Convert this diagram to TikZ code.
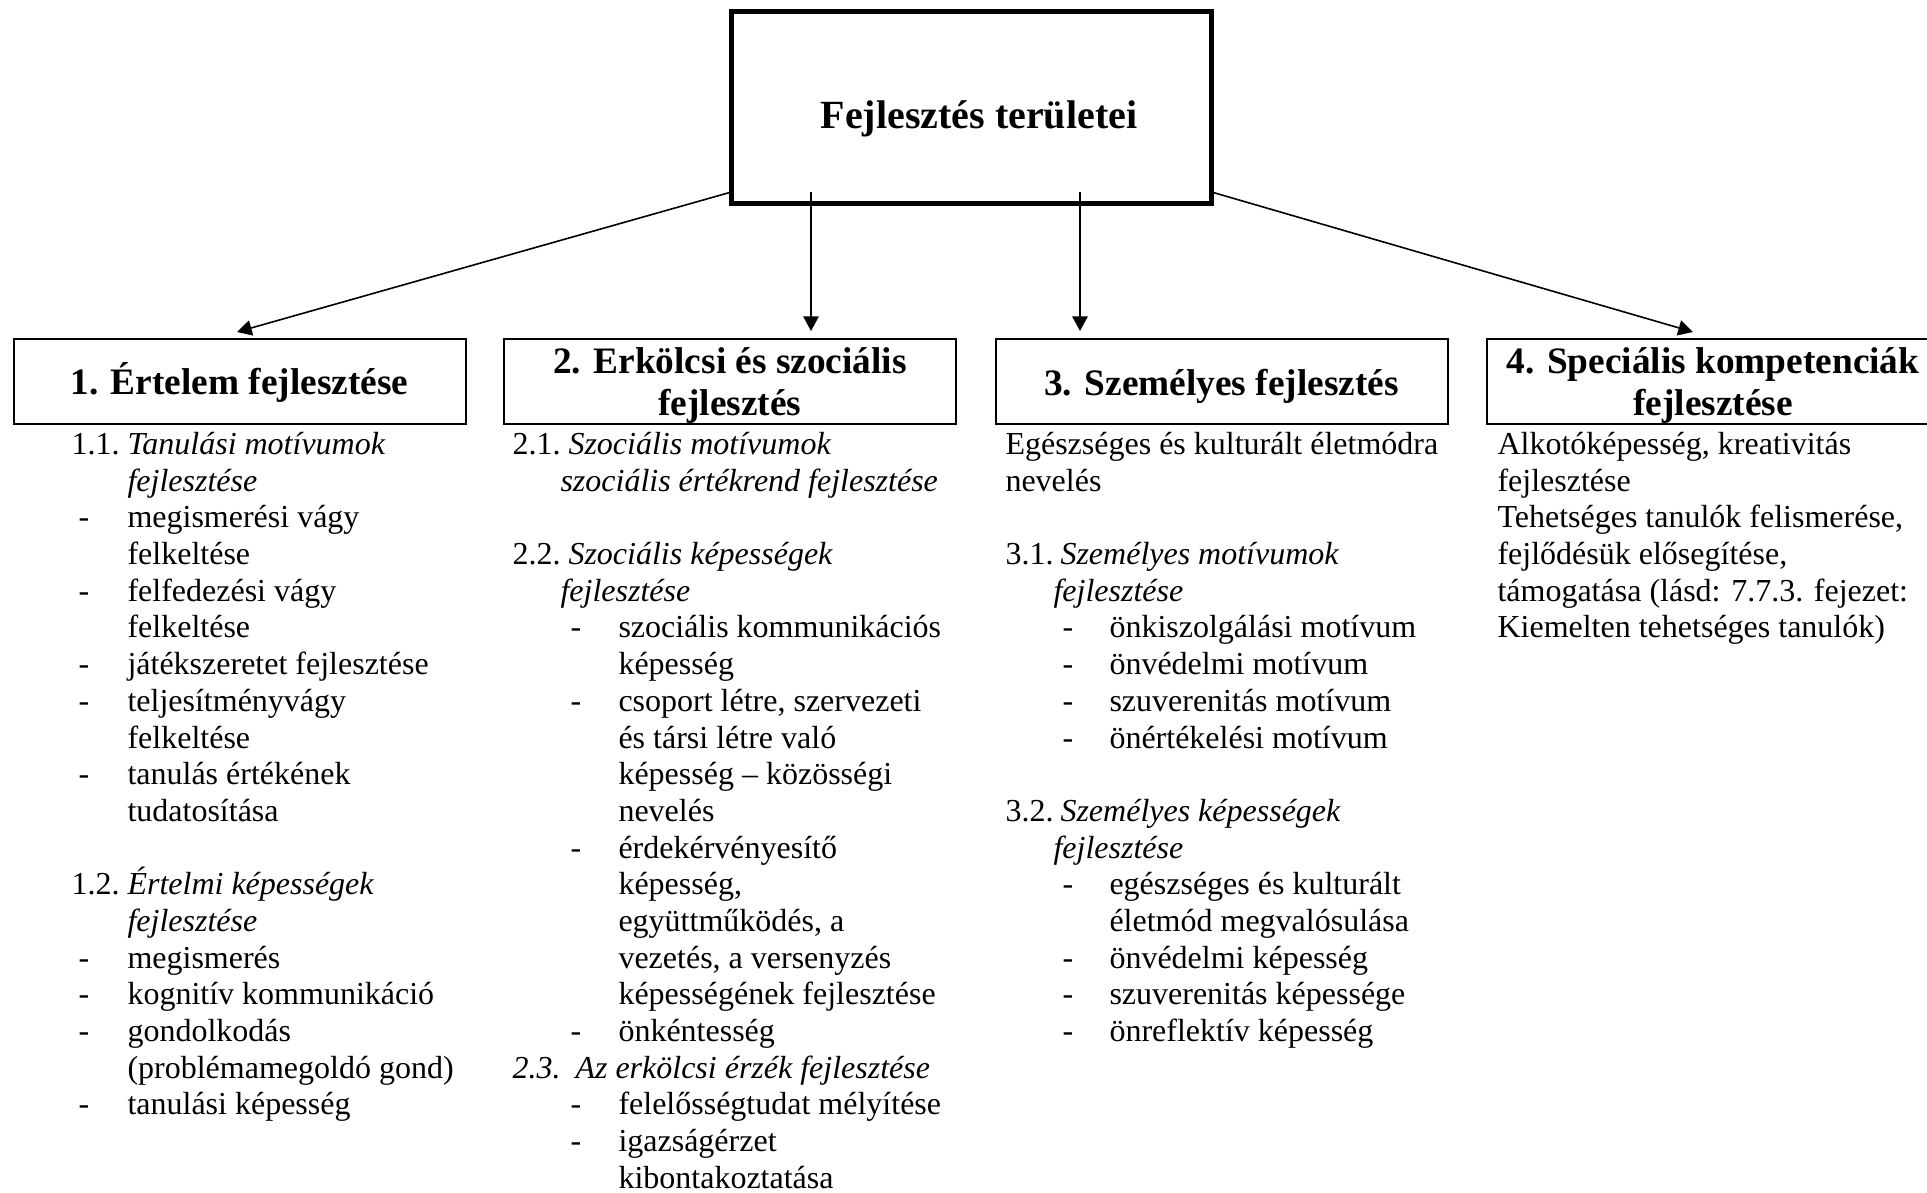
\documentclass[tikz,border=0pt]{standalone}
\usepackage{fontspec}
\setmainfont{Liberation Serif}
\usetikzlibrary{arrows.meta}
\newlength\px \setlength\px{0.375pt}
\newcommand\colbox[1]{\vtop{\hsize=600\px\parindent=0pt\parskip=0pt\fontsize{12}{13.76}\selectfont #1}}
\newcommand\Lab[3]{\makebox[#1\px][l]{#2}#3\par}
\newcommand\Ind[2]{\hspace*{#1\px}#2\par}
\newcommand\Dsh[3]{\makebox[#2\px][l]{\hspace*{#1\px}-}#3\par}
\newcommand\Blank{\mbox{}\par}
\tikzset{
  topbox/.style={draw, line width=1.875pt, minimum width=180pt, minimum height=72pt, inner sep=0pt},
  areabox/.style={draw, line width=0.75pt, minimum width=169.5pt, minimum height=31.9pt, inner sep=0pt},
  conn/.style={-{Triangle[length=5.5pt,width=5.8pt]}, line width=0.6pt},
  toptitle/.style={font=\fontsize{15}{17}\selectfont\bfseries, anchor=base, inner sep=0pt},
  boxtitle/.style={font=\fontsize{14}{15.75}\selectfont\bfseries, anchor=base, inner sep=0pt},
  bodytext/.style={anchor=base west, inner sep=0pt}
}
\begin{document}
\begin{tikzpicture}[x=0.375pt,y=-0.375pt]
\useasboundingbox (0,0) rectangle (1927,1193);
% top box
\node[topbox] (top) at (971.5,107.5) {};
\node[toptitle] (toptxt) at (979,129) {Fejlesztés területei};
% area boxes
\node[areabox] (b1) at (239.5,381.5) {};
\node[areabox] (b2) at (730,381.5) {};
\node[areabox] (b3) at (1221.5,381.5) {};
\node[areabox] (b4) at (1713,381.5) {};
\node[boxtitle] (b1t) at (239.5,395) {1. Értelem fejlesztése};
\node[boxtitle] (b2t) at (730,374) {\begin{tabular}[t]{@{}c@{}}2. Erkölcsi és szociális\\fejlesztés\end{tabular}};
\node[boxtitle] (b3t) at (1221.5,396) {3. Személyes fejlesztés};
\node[boxtitle] (b4t) at (1713,374) {\begin{tabular}[t]{@{}c@{}}4. Speciális kompetenciák\\fejlesztése\end{tabular}};
% connectors
\coordinate (s1) at (731.5,192);
\coordinate (s2) at (811,192);
\coordinate (s3) at (1080,192);
\coordinate (s4) at (1211.5,192);
\coordinate (t1) at (237,332);
\coordinate (t2) at (811,331);
\coordinate (t3) at (1080,331);
\coordinate (t4) at (1693,332);
\draw[conn] (s1) -- (t1);
\draw[conn] (s2) -- (t2);
\draw[conn] (s3) -- (t3);
\draw[conn] (s4) -- (t4);
% column 1
\node[bodytext] (c1) at (71,454.5) {\colbox{%
\Lab{56}{1.1.}{\textit{Tanulási motívumok}}
\Ind{56}{\textit{fejlesztése}}
\Dsh{7}{56}{megismerési vágy}
\Ind{56}{felkeltése}
\Dsh{7}{56}{felfedezési vágy}
\Ind{56}{felkeltése}
\Dsh{7}{56}{játékszeretet fejlesztése}
\Dsh{7}{56}{teljesítményvágy}
\Ind{56}{felkeltése}
\Dsh{7}{56}{tanulás értékének}
\Ind{56}{tudatosítása}
\Blank
\Lab{56}{1.2.}{\textit{Értelmi képességek}}
\Ind{56}{\textit{fejlesztése}}
\Dsh{7}{56}{megismerés}
\Dsh{7}{56}{kognitív kommunikáció}
\Dsh{7}{56}{gondolkodás}
\Ind{56}{(problémamegoldó gond)}
\Dsh{7}{56}{tanulási képesség}
}};
% column 2
\node[bodytext] (c2) at (512,454.5) {\colbox{%
\Lab{56}{2.1.}{\textit{Szociális motívumok}}
\Ind{48}{\textit{szociális értékrend fejlesztése}}
\Blank
\Lab{56}{2.2.}{\textit{Szociális képességek}}
\Ind{48}{\textit{fejlesztése}}
\Dsh{58}{106}{szociális kommunikációs}
\Ind{106}{képesség}
\Dsh{58}{106}{csoport létre, szervezeti}
\Ind{106}{és társi létre való}
\Ind{106}{képesség – közösségi}
\Ind{106}{nevelés}
\Dsh{58}{106}{érdekérvényesítő}
\Ind{106}{képesség,}
\Ind{106}{együttműködés, a}
\Ind{106}{vezetés, a versenyzés}
\Ind{106}{képességének fejlesztése}
\Dsh{58}{106}{önkéntesség}
\Lab{63}{\textit{2.3.}}{\textit{Az erkölcsi érzék fejlesztése}}
\Dsh{58}{106}{felelősségtudat mélyítése}
\Dsh{58}{106}{igazságérzet}
\Ind{106}{kibontakoztatása}
}};
% column 3
\node[bodytext] (c3) at (1005,454.5) {\colbox{%
Egészséges és kulturált életmódra\par
nevelés\par
\Blank
\Lab{55}{3.1.}{\textit{Személyes motívumok}}
\Ind{48}{\textit{fejlesztése}}
\Dsh{57}{104}{önkiszolgálási motívum}
\Dsh{57}{104}{önvédelmi motívum}
\Dsh{57}{104}{szuverenitás motívum}
\Dsh{57}{104}{önértékelési motívum}
\Blank
\Lab{55}{3.2.}{\textit{Személyes képességek}}
\Ind{48}{\textit{fejlesztése}}
\Dsh{57}{104}{egészséges és kulturált}
\Ind{104}{életmód megvalósulása}
\Dsh{57}{104}{önvédelmi képesség}
\Dsh{57}{104}{szuverenitás képessége}
\Dsh{57}{104}{önreflektív képesség}
}};
% column 4
\node[bodytext] (c4) at (1497,454.5) {\colbox{%
Alkotóképesség, kreativitás\par
fejlesztése\par
Tehetséges tanulók felismerése,\par
fejlődésük elősegítése,\par
támogatása (lásd: 7.7.3. fejezet:\par
Kiemelten tehetséges tanulók)\par
}};
\end{tikzpicture}
\end{document}
